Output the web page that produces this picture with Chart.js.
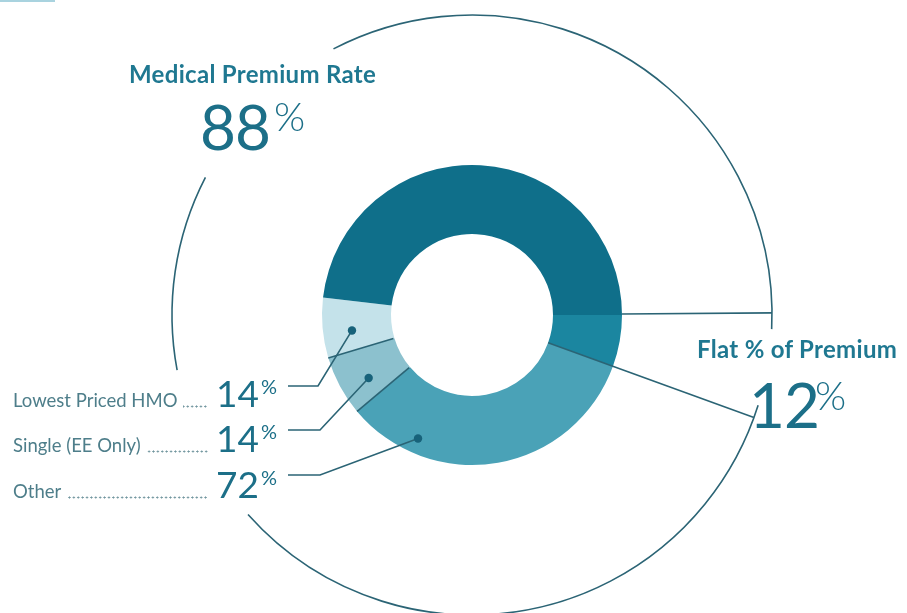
<!DOCTYPE html>
<html lang="en">
<head>
  <meta charset="UTF-8" />
  <title>Premium Contribution Basis</title>
  <script src="https://cdn.jsdelivr.net/npm/chart.js"></script>
  <style>
    body { margin: 0; background: #ffffff; font-family: "Lato", "Noto Sans", sans-serif; }
    .stage { position: relative; width: 907px; height: 613px; overflow: hidden; }
    .stage canvas { position: absolute; left: 0; top: 0; }
    .txt { position: absolute; line-height: 1; white-space: nowrap; color: #1c6f88; }
    .head { font-weight: 700; font-size: 24px; letter-spacing: 0.3px; color: #1f7891; }
    .big { font-weight: 400; font-size: 62px; letter-spacing: -1px; }
    .pct { font-weight: 300; font-size: 40px; }
    .row { position: absolute; left: 13px; width: 195px; height: 18px; display: flex; line-height: 1; }
    .row .lbl { font-size: 18.5px; color: #4e7e8a; }
    .row .fill {
      flex: 1; align-self: flex-end; height: 3px; margin: 0 0 1px 6px;
      background-image: radial-gradient(circle, #6f949d 0.8px, transparent 1.3px);
      background-size: 4.4px 3px; background-repeat: repeat-x; background-position: right bottom;
    }
    .num { position: absolute; font-weight: 400; font-size: 37px; line-height: 1; color: #1c6f88; text-align: right; width: 60px; }
    .sup { position: absolute; font-weight: 400; font-size: 20px; line-height: 1; color: #1c6f88; }
    .bar { position: absolute; left: 0; top: 0; width: 55px; height: 2px; background: #a9d3df; }
  </style>
</head>
<body>
<div class="stage" id="stage">
  <div class="bar"></div>
  <canvas id="ring" width="907" height="613"></canvas>
</div>

<script>
  // headline split of the premium basis
  const headLabels = ['Medical Premium Rate', 'Flat % of Premium'];
  const headValues = [88, 12];

  // breakdown of the medical premium rate
  const splitLabels = ['Lowest Priced HMO', 'Single (EE Only)', 'Other'];
  const splitValues = [14, 14, 72];

  // part of the medical arc that is not broken out (estimated)
  const medicalRest = 104;

  // ring order, clockwise from 3 o'clock
  const ringLabels = ['Flat % of Premium', 'Other', 'Single (EE Only)', 'Lowest Priced HMO', 'Medical Premium Rate'];
  const ringValues = [headValues[1], splitValues[2], splitValues[1], splitValues[0], medicalRest];
  const ringColors = ['#1b86a0', '#4aa2b7', '#8cc1ce', '#c4e2ea', '#0f6f8a'];

  const lineColor = '#2b6475';
  const deg = Math.PI / 180;

  // where each breakdown dot sits inside its slice: [slice index, share of sweep, share of ring depth]
  const dotSpots = [[3, 0.40, 0.58], [2, 0.37, 0.58], [1, 0.78, 0.78]];
  // elbow of each leader line and the left end of its stub
  const leaderElbows = [[318, 386], [320, 430], [320, 475]];
  const leaderStart = 288;

  const guidePlugin = {
    id: 'guides',
    afterDatasetsDraw(chart) {
      const ctx = chart.ctx;
      const arcs = chart.getDatasetMeta(0).data;
      const cx = arcs[0].x, cy = arcs[0].y;
      const R = arcs[0].outerRadius, r = arcs[0].innerRadius;
      const ringR = R * 2;
      const flatStart = arcs[0].startAngle, flatEnd = arcs[0].endAngle;
      const pt = (a, rad) => [cx + Math.cos(a) * rad, cy + Math.sin(a) * rad];

      ctx.save();
      ctx.strokeStyle = lineColor;
      ctx.lineWidth = 1.6;
      ctx.lineCap = 'butt';

      // outer brackets around the two headline groups
      const brackets = [
        [242.5 * deg, flatStart + 2 * Math.PI + 2.7 * deg],
        [flatEnd - 2.5 * deg, 138.3 * deg],
        [169.4 * deg, 207.3 * deg]
      ];
      brackets.forEach(([a0, a1]) => {
        ctx.beginPath();
        ctx.arc(cx, cy, ringR, a0, a1);
        ctx.stroke();
      });

      // radial rules at the flat slice edges
      let p = pt(flatStart - 0.4 * deg, R), q = pt(flatStart - 0.4 * deg, ringR);
      ctx.beginPath(); ctx.moveTo(p[0], p[1]); ctx.lineTo(q[0], q[1]); ctx.stroke();
      p = pt(flatEnd, r); q = pt(flatEnd, ringR);
      ctx.beginPath(); ctx.moveTo(p[0], p[1]); ctx.lineTo(q[0], q[1]); ctx.stroke();

      // separators between the light slices
      [arcs[1].endAngle, arcs[2].endAngle].forEach(a => {
        const s = pt(a, r + 1), e = pt(a, R);
        ctx.beginPath(); ctx.moveTo(s[0], s[1]); ctx.lineTo(e[0], e[1]); ctx.stroke();
      });

      // leader lines from the breakdown list to the dots
      dotSpots.forEach(([idx, along, depth], i) => {
        const arc = arcs[idx];
        const a = arc.startAngle + (arc.endAngle - arc.startAngle) * along;
        const d = pt(a, r + (R - r) * depth);
        const [ex, ey] = leaderElbows[i];
        ctx.beginPath();
        ctx.moveTo(leaderStart, ey);
        ctx.lineTo(ex, ey);
        ctx.lineTo(d[0], d[1]);
        ctx.stroke();
        ctx.fillStyle = '#17627a';
        ctx.beginPath();
        ctx.arc(d[0], d[1], 4.2, 0, 2 * Math.PI);
        ctx.fill();
      });
      ctx.restore();
    }
  };

  new Chart(document.getElementById('ring'), {
    type: 'doughnut',
    data: {
      labels: ringLabels,
      datasets: [{
        data: ringValues,
        backgroundColor: ringColors,
        borderWidth: 0
      }]
    },
    options: {
      responsive: false,
      animation: false,
      rotation: 90,
      cutout: '54%',
      layout: { padding: { left: 322, right: 285, top: 165, bottom: 148 } },
      plugins: { legend: { display: false }, tooltip: { enabled: false } }
    },
    plugins: [guidePlugin]
  });

  // text overlay
  const stage = document.getElementById('stage');
  function addText(cls, text, left, top) {
    const el = document.createElement('div');
    el.className = 'txt ' + cls;
    el.textContent = text;
    el.style.left = left + 'px';
    el.style.top = top + 'px';
    stage.appendChild(el);
    return el;
  }

  addText('head', headLabels[0], 129, 62);
  addText('big', String(headValues[0]), 200, 95);
  addText('pct', '%', 274, 96);

  addText('head', headLabels[1], 697, 337);
  addText('big', String(headValues[1]), 749, 373);
  addText('pct', '%', 815, 375);

  const rowBaselines = [407, 452, 498];
  splitLabels.forEach((name, i) => {
    const base = rowBaselines[i];
    const row = document.createElement('div');
    row.className = 'row';
    row.style.top = (base - 16) + 'px';
    row.innerHTML = '<span class="lbl"></span><span class="fill"></span>';
    row.querySelector('.lbl').textContent = name;
    stage.appendChild(row);

    const num = document.createElement('div');
    num.className = 'num';
    num.textContent = splitValues[i];
    num.style.left = (259 - 60) + 'px';
    num.style.top = (base - 33) + 'px';
    stage.appendChild(num);

    const sup = document.createElement('div');
    sup.className = 'sup';
    sup.textContent = '%';
    sup.style.left = '261px';
    sup.style.top = (base - 31) + 'px';
    stage.appendChild(sup);
  });
</script>
</body>
</html>
